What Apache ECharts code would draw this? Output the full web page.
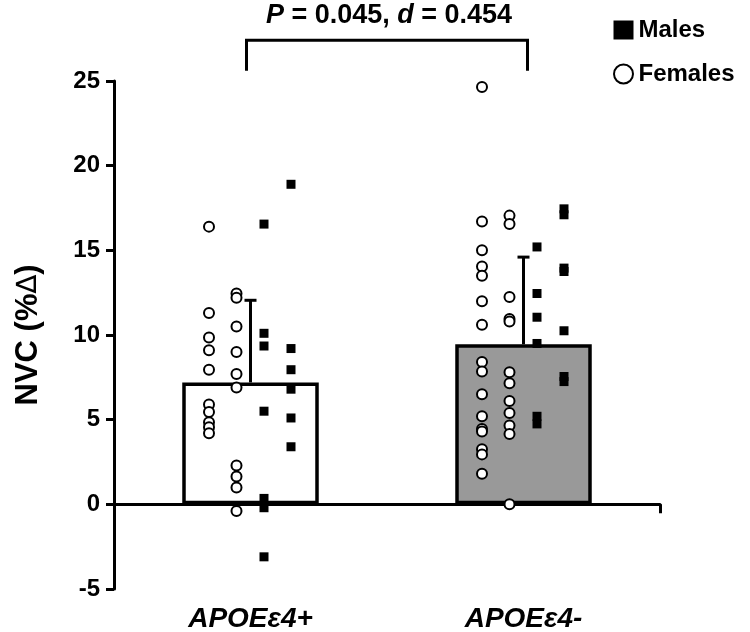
<!DOCTYPE html>
<html>
<head>
<meta charset="utf-8">
<script src="https://cdn.jsdelivr.net/npm/echarts@6/dist/echarts.min.js"></script>
<style>
  html, body { margin: 0; padding: 0; background: #fff; }
  #chart { width: 750px; height: 632px; }
</style>
</head>
<body>
<div id="chart"></div>
<script>
// ---- data ----
const categories = ['APOEε4+', 'APOEε4-'];
const barMeans = [7.2, 9.45];
const barSD = [4.85, 5.15];

// APOEε4+ group: two columns of females, two of males
const femalesPosA = [16.4, 11.3, 9.85, 9.1, 7.95, 5.9, 5.45, 4.85, 4.55, 4.2];
const femalesPosB = [12.45, 12.2, 10.5, 9.0, 7.7, 6.9, 2.3, 1.65, 1.0, -0.4];
const malesPosA = [16.55, 10.1, 9.35, 5.5, 0.35, -0.2, -3.1];
const malesPosB = [18.9, 9.2, 7.95, 6.8, 5.1, 3.4];

// APOEε4- group
const femalesNegA = [24.65, 16.7, 15.0, 14.05, 13.5, 12.0, 10.6, 8.4, 7.85, 6.5, 5.2, 4.45, 4.3, 3.25, 2.95, 1.8];
const femalesNegB = [17.05, 16.55, 12.25, 10.95, 10.8, 7.8, 7.15, 6.1, 5.4, 4.65, 4.15, 0.0];
const malesNegA = [15.2, 12.45, 11.05, 9.5, 5.2, 4.75];
const malesNegB = [17.45, 17.1, 13.95, 13.75, 10.25, 7.55, 7.25];

const yTicks = { min: -5, max: 25, interval: 5 };
const annotation = { p: '0.045', d: '0.454' };
// bracket levels in axis units
const bracketLeg = 25.6;
const bracketTop = 27.4;

// ---- build ----
const FONT = 'Liberation Sans, Arial, sans-serif';
function pairs(pos, neg) {
  return pos.map(v => [0, v]).concat(neg.map(v => [1, v]));
}
const barColors = ['#ffffff', '#999999'];

const femaleStyle = { color: '#ffffff', borderColor: '#000000', borderWidth: 2, opacity: 1 };
const maleStyle = { color: '#000000', opacity: 1 };

function scatter(name, data, offset, isMale) {
  return {
    type: 'scatter',
    name: name,
    data: data,
    symbol: isMale ? 'rect' : 'circle',
    symbolSize: isMale ? 9 : 10,
    symbolOffset: [offset, 0],
    itemStyle: isMale ? maleStyle : femaleStyle,
    z: 5,
    emphasis: { disabled: true },
    silent: true
  };
}

const chart = echarts.init(document.getElementById('chart'), null, { renderer: 'canvas' });
chart.setOption({
  animation: false,
  backgroundColor: '#ffffff',
  title: {
    left: 384,
    top: -3,
    textAlign: 'center',
    text: '{i|P}{n| = ' + annotation.p + ', }{i|d}{n| = ' + annotation.d + '}',
    textStyle: {
      rich: {
        i: { fontFamily: FONT, fontSize: 27, fontWeight: 'bold', fontStyle: 'italic', color: '#000' },
        n: { fontFamily: FONT, fontSize: 27, fontWeight: 'bold', color: '#000' }
      }
    }
  },
  legend: {
    orient: 'vertical',
    left: 608,
    top: 13,
    itemWidth: 20,
    itemHeight: 19,
    itemGap: 20,
    itemTextGap: 18,
    textStyle: { fontFamily: FONT, fontSize: 24, fontWeight: 'bold', color: '#000' },
    data: [
      { name: 'Males', icon: 'rect', itemStyle: { color: '#000', borderWidth: 0 } },
      { name: 'Females', icon: 'circle', itemStyle: { color: '#fff', borderColor: '#000', borderWidth: 2 } }
    ],
    selectedMode: false
  },
  grid: { left: 114, right: 90, top: 81, bottom: 43, containLabel: false, outerBoundsMode: 'none' },
  xAxis: {
    type: 'category',
    data: categories,
    boundaryGap: true,
    axisLine: { onZero: true, lineStyle: { color: '#000', width: 3 } },
    axisTick: {
      show: true,
      length: 9,
      interval: function (index) { return index === categories.length - 1; },
      lineStyle: { color: '#000', width: 3 }
    },
    axisLabel: {
      interval: 0,
      margin: 16,
      fontFamily: FONT,
      fontSize: 28,
      fontWeight: 'bold',
      fontStyle: 'italic',
      color: '#000'
    },
    splitLine: { show: false }
  },
  yAxis: {
    type: 'value',
    min: yTicks.min,
    max: yTicks.max,
    interval: yTicks.interval,
    name: '{b|NVC (%}{t|∆}{b|)}',
    nameLocation: 'middle',
    nameGap: 70,
    nameRotate: 90,
    nameTextStyle: {
      rich: {
        b: { fontFamily: FONT, fontSize: 31, fontWeight: 'bold', color: '#000' },
        t: { fontFamily: 'DejaVu Sans', fontSize: 28, fontWeight: 'normal', color: '#000' }
      }
    },
    axisLine: { show: true, onZero: false, lineStyle: { color: '#000', width: 3 } },
    axisTick: { show: true, length: 8, lineStyle: { color: '#000', width: 3 } },
    axisLabel: { margin: 14, fontFamily: FONT, fontSize: 24, fontWeight: 'bold', color: '#000' },
    splitLine: { show: false }
  },
  series: [
    {
      type: 'bar',
      name: 'mean',
      barWidth: '50%',
      data: barMeans.map((v, i) => ({
        value: v,
        itemStyle: { color: barColors[i], borderColor: '#000', borderWidth: 3.5 }
      })),
      z: 2,
      silent: true
    },
    {
      type: 'custom',
      name: 'sd',
      z: 3,
      silent: true,
      clip: false,
      data: barMeans.map((m, i) => [i, m, barSD[i]]),
      renderItem: function (params, api) {
        const x = api.value(0), m = api.value(1), s = api.value(2);
        const p0 = api.coord([x, m]);
        const p1 = api.coord([x, m + s]);
        return {
          type: 'group',
          children: [
            { type: 'line', shape: { x1: p0[0], y1: p0[1], x2: p1[0], y2: p1[1] }, style: { stroke: '#000', lineWidth: 3 } },
            { type: 'line', shape: { x1: p1[0] - 6, y1: p1[1], x2: p1[0] + 6, y2: p1[1] }, style: { stroke: '#000', lineWidth: 3 } }
          ]
        };
      }
    },
    {
      type: 'custom',
      name: 'bracket',
      z: 3,
      silent: true,
      clip: false,
      data: [[0, bracketLeg, bracketTop, 1]],
      renderItem: function (params, api) {
        const a = api.value(0), leg = api.value(1), top = api.value(2), b = api.value(3);
        const pl0 = api.coord([a, leg]), pl1 = api.coord([a, top]);
        const pr0 = api.coord([b, leg]), pr1 = api.coord([b, top]);
        return {
          type: 'polyline',
          shape: { points: [[pl0[0] - 4, pl0[1]], [pl1[0] - 4, pl1[1]], [pr1[0] + 4, pr1[1]], [pr0[0] + 4, pr0[1]]] },
          style: { stroke: '#000', lineWidth: 3, fill: null }
        };
      }
    },
    scatter('Females', pairs(femalesPosA, femalesNegA), -41.5, false),
    scatter('Females', pairs(femalesPosB, femalesNegB), -14, false),
    scatter('Males', pairs(malesPosA, malesNegA), 13.5, true),
    scatter('Males', pairs(malesPosB, malesNegB), 40.5, true)
  ]
});
</script>
</body>
</html>
